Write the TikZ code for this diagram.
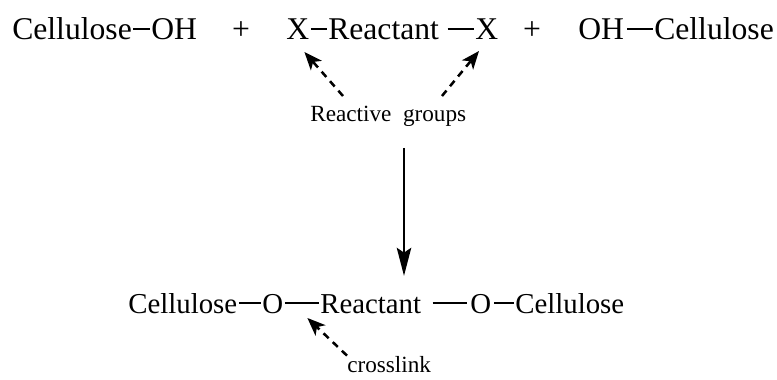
\documentclass[tikz,border=0pt]{standalone}
\usepackage{fontspec}
\setmainfont{Liberation Serif}
\usetikzlibrary{arrows.meta}
\begin{document}
\begin{tikzpicture}[
    x=0.025cm, y=-0.025cm,
    chem/.style={inner sep=0pt, anchor=base west, font=\fontsize{22.5}{26}\selectfont},
    prod/.style={inner sep=0pt, anchor=base west, font=\fontsize{20.5}{24}\selectfont},
    note/.style={inner sep=0pt, anchor=base west, font=\fontsize{16.5}{20}\selectfont},
    bond/.style={line width=1.6pt},
    arr/.style={-{Stealth[length=0.45cm, width=0.36cm, inset=0.12cm]}, line width=1.8pt, dash pattern=on 5pt off 4pt},
    rxn/.style={-{Stealth[length=0.7cm, width=0.36cm, inset=0.12cm]}, line width=1.7pt},
]
\useasboundingbox (0,0) rectangle (777,380);
\node[chem] (cellA) at (12,40) {Cellulose};
\node[chem] (ohA) at (151,40) {OH};
\node[chem, anchor=base] (plusA) at (241,40) {+};
\node[chem] (xA) at (286,40) {X};
\node[chem] (reactA) at (328,40) {Reactant};
\node[chem] (xB) at (475,40) {X};
\node[chem, anchor=base] (plusB) at (532,40) {+};
\node[chem] (ohB) at (578,40) {OH};
\node[chem] (cellB) at (654,40) {Cellulose};
\draw[bond] ([xshift=1pt,yshift=7.8pt]cellA.base east) -- ([xshift=-1pt,yshift=7.8pt]ohA.base west);
\draw[bond] ([xshift=1pt,yshift=7.8pt]xA.base east) -- ([xshift=-1pt,yshift=7.8pt]reactA.base west);
\draw[bond] ([xshift=6pt,yshift=7.8pt]reactA.base east) -- ([xshift=-1pt,yshift=7.8pt]xB.base west);
\draw[bond] ([xshift=2pt,yshift=7.8pt]ohB.base east) -- ([xshift=-1pt,yshift=7.8pt]cellB.base west);
\node[note] (groups) at (310,122) {Reactive\ \ groups};
\coordinate (tailA) at (343,96);
\coordinate (tailB) at (442,96);
\draw[arr] (tailA) -- ([xshift=-0.125cm,yshift=-0.3cm]xA.base east);
\draw[arr] (tailB) -- ([xshift=0.1cm,yshift=-0.275cm]xB.base west);
\node[prod] (cellC) at (128,313) {Cellulose};
\node[prod] (oC) at (262,313) {O};
\node[prod] (reactC) at (320,313) {Reactant};
\node[prod] (oD) at (470,313) {O};
\node[prod] (cellD) at (515,313) {Cellulose};
\draw[bond] ([xshift=1pt,yshift=7pt]cellC.base east) -- ([xshift=-1pt,yshift=7pt]oC.base west);
\draw[bond] ([xshift=1pt,yshift=7pt]oC.base east) -- ([xshift=-1pt,yshift=7pt]reactC.base west);
\draw[bond] ([xshift=8pt,yshift=7pt]reactC.base east) -- ([xshift=-2pt,yshift=7pt]oD.base west);
\draw[bond] ([xshift=2pt,yshift=7pt]oD.base east) -- ([xshift=-1pt,yshift=7pt]cellD.base west);
\coordinate (rxtop) at (404,148);
\draw[rxn, shorten >=0.45cm] (rxtop) -- (rxtop |- reactC.north);
\node[note] (link) at (347,372) {crosslink};
\draw[arr] (link.north west) -- ([xshift=0.6cm,yshift=-0.125cm]oC.base east);
\end{tikzpicture}
\end{document}
